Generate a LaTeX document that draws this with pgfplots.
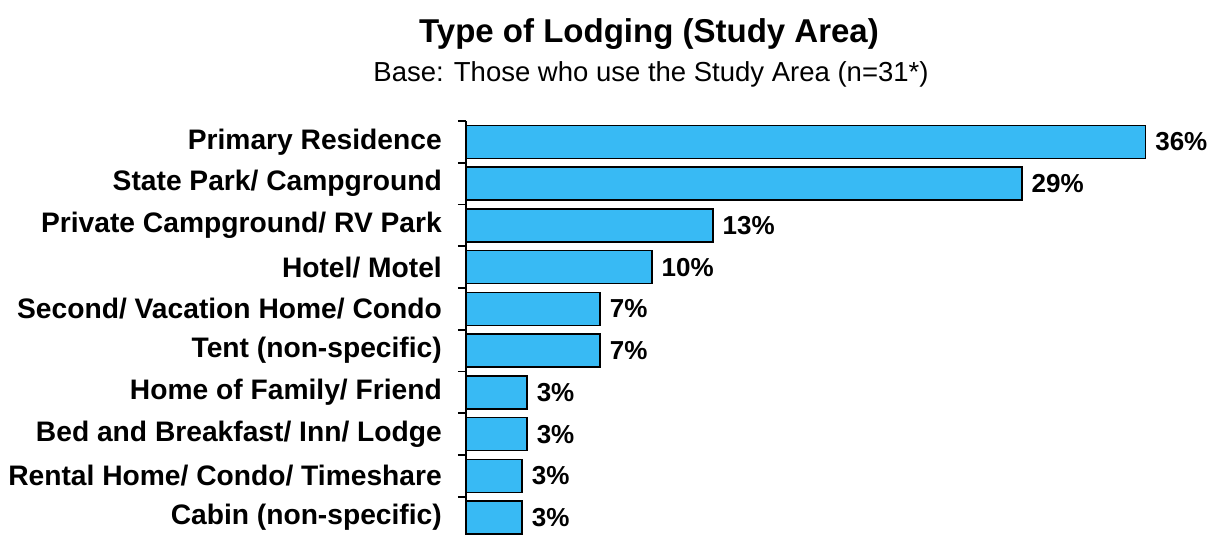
\documentclass[border=0pt]{standalone}
\usepackage{fontspec}
\setmainfont{Liberation Sans}
\usepackage{pgfplots}
\pgfplotsset{compat=1.18}
\definecolor{barblue}{RGB}{56,186,244}
\begin{document}
\begin{tikzpicture}
\path[use as bounding box] (0pt,0pt) rectangle (1211pt,535pt);
\node[font=\fontsize{33}{38}\selectfont\bfseries, inner sep=0pt] at (649pt,501pt) {Type of Lodging (Study Area)};
\node[font=\fontsize{27.5}{32}\selectfont, inner sep=0pt] at (651pt,461pt) {Base: Those who use the Study Area (n=31*)};
\begin{axis}[
  at={(466pt,-3.5pt)}, anchor=south west,
  scale only axis, width=755pt, height=417.5pt,
  xmin=0, xmax=40, ymin=-0.5, ymax=9.5,
  y dir=reverse,
  axis x line=none,
  axis y line*=left,
  axis line style={line width=1.6pt, black},
  xbar, bar width=33pt,
  ytick={0,...,9},
  yticklabels={Primary Residence, State Park/ Campground, Private Campground/ RV Park, Hotel/ Motel, Second/ Vacation Home/ Condo, Tent (non-specific), Home of Family/ Friend, Bed and Breakfast/ Inn/ Lodge, Rental Home/ Condo/ Timeshare, Cabin (non-specific)},
  yticklabel style={font=\fontsize{28.2}{33}\selectfont\bfseries, inner sep=0pt, anchor=east, xshift=-24pt},
  major tick length=0pt,
  minor ytick={-0.5,0.5,...,9.5},
  minor tick length=8pt,
  tick align=outside,
  minor tick style={line width=1.6pt, black},
  clip=false,
  /pgf/number format/assume math mode=true,
  nodes near coords={\pgfmathprintnumber[fixed,precision=0,assume math mode=true]{\pgfplotspointmeta}\%},
  nodes near coords style={font=\fontsize{26}{30}\selectfont\bfseries, anchor=west, inner sep=0pt, xshift=9pt},
]
\addplot[fill=barblue, draw=black, line width=1.6pt] coordinates {
 (36.0,0) (29.45,1) (13.08,2) (9.85,3) (7.10,4) (7.10,5) (3.23,6) (3.23,7) (2.97,8) (2.97,9)
};
\end{axis}
\end{tikzpicture}
\end{document}
